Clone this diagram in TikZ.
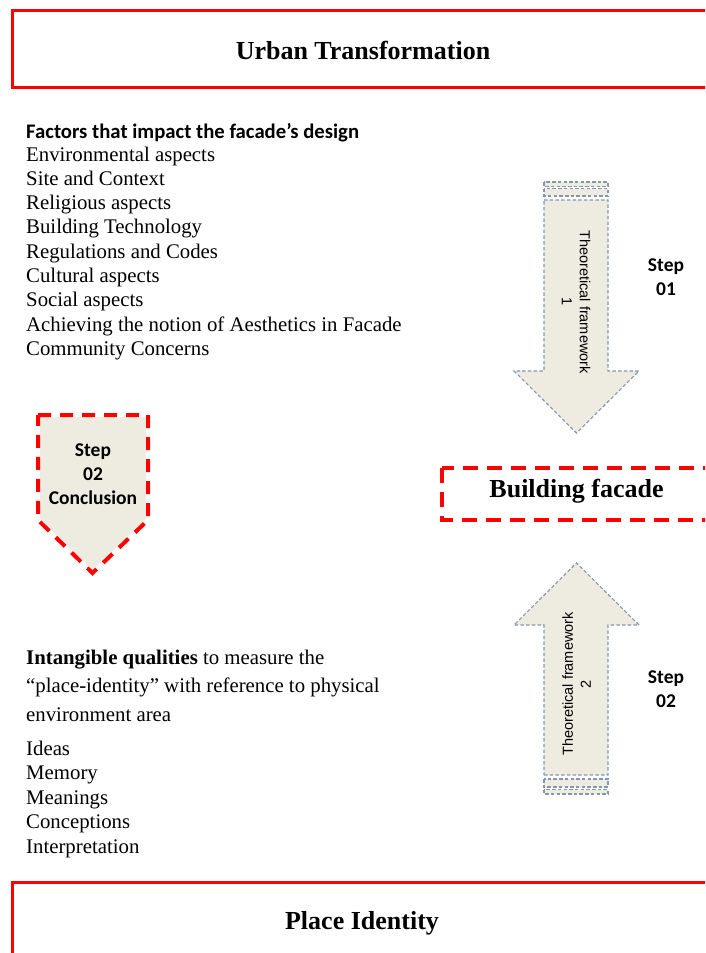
\documentclass[tikz,border=0pt]{standalone}
\usepackage{fontspec}
\setmainfont{Liberation Serif}
\newfontfamily\calibf{Carlito}
\newfontfamily\arialf{Liberation Sans}
\definecolor{beige}{HTML}{EEECE1}
\definecolor{dashblue}{HTML}{8496B0}
\definecolor{redline}{HTML}{FF0000}
\tikzset{
  titlebox/.style={draw=redline, line width=3pt},
  titletext/.style={anchor=base, inner sep=0pt, font=\fontsize{26}{30}\selectfont\bfseries},
  reddash/.style={draw=redline, line width=4pt, dash pattern=on 13pt off 9pt},
  arrowshape/.style={fill=beige, draw=dashblue, line width=1.1pt, dash pattern=on 3.5pt off 2.2pt, line join=miter},
  stripe/.style={fill=beige, draw=dashblue, line width=1.1pt, dash pattern=on 3.5pt off 2.2pt},
  listitem/.style={anchor=base west, inner sep=0pt, font=\fontsize{20.8}{24}\selectfont},
  headitem/.style={anchor=base west, inner sep=0pt, font=\calibf\bfseries\fontsize{20.7}{24}\selectfont},
  steptext/.style={anchor=base, inner sep=0pt, font=\calibf\bfseries\fontsize{19.5}{24}\selectfont},
  frametext/.style={align=center, inner sep=0pt, font=\arialf\fontsize{14.5}{18}\selectfont}
}
\begin{document}
\begin{tikzpicture}[x=1pt,y=-1pt]
\useasboundingbox (0,0) rectangle (705,953);
\clip (0,0) rectangle (705,953);

% top title box
\draw[titlebox] (12,10) rectangle (720,87);
\node[titletext] (urban) at (363,59.5) {Urban Transformation};

% factors list
\node[headitem] (factors) at (26,138.5) {Factors that impact the facade’s design};
\node[listitem] (f1) at (26,161) {Environmental aspects};
\node[listitem] (f2) at (26,185.3) {Site and Context};
\node[listitem] (f3) at (26,209.6) {Religious aspects};
\node[listitem] (f4) at (26,233.9) {Building Technology};
\node[listitem] (f5) at (26,258.2) {Regulations and Codes};
\node[listitem] (f6) at (26,282.5) {Cultural aspects};
\node[listitem] (f7) at (26,306.8) {Social aspects};
\node[listitem] (f8) at (26,331.1) {Achieving the notion of Aesthetics in Facade};
\node[listitem] (f9) at (26,355.4) {Community Concerns};

% arrow 1 (down)
\draw[stripe] (544,182) rectangle (608,186.5);
\draw[stripe] (544,188.5) rectangle (608,196);
\draw[arrowshape] (544,200) -- (608,200) -- (608,371) -- (639,371) -- (576.5,433) -- (514,371) -- (544,371) -- cycle;
\node[frametext, rotate=-90] (tf1) at (576,302) {Theoretical framework\\1};
\node[steptext] (s1a) at (666,271) {Step};
\node[steptext] (s1b) at (666,295) {01};

% conclusion pentagon
\fill[beige] (40,417) -- (146,417) -- (146,519) -- (92.5,570) -- (40,519) -- cycle;
\draw[reddash] (38,415) -- (148,415) -- (148,520) -- (92.5,573) -- (38,520) -- cycle;
\node[steptext] (c1) at (93,456) {Step};
\node[steptext] (c2) at (93,480) {02};
\node[steptext] (c3) at (93,504) {Conclusion};

% building facade box
\draw[reddash, dash pattern=on 15pt off 9pt] (442,468) rectangle (720,520);
\node[titletext] (facade) at (576.5,497) {Building facade};

% arrow 2 (up)
\draw[arrowshape] (544,775) -- (608,775) -- (608,625) -- (639,625) -- (576.5,563) -- (514,625) -- (544,625) -- cycle;
\draw[stripe] (544,779) rectangle (608,787);
\draw[stripe] (544,789.5) rectangle (608,794);
\node[frametext, rotate=90] (tf2) at (576.5,684) {Theoretical framework\\2};
\node[steptext] (s2a) at (666,683.5) {Step};
\node[steptext] (s2b) at (666,707.5) {02};

% intangible qualities
\node[listitem] (i0) at (26,664) {\textbf{Intangible qualities} to measure the};
\node[listitem] (i1) at (26,692) {“place-identity” with reference to physical};
\node[listitem] (i2) at (26,721) {environment area};
\node[listitem] (q1) at (26,755) {Ideas};
\node[listitem] (q2) at (26,779.5) {Memory};
\node[listitem] (q3) at (26,804) {Meanings};
\node[listitem] (q4) at (26,828.5) {Conceptions};
\node[listitem] (q5) at (26,853) {Interpretation};

% bottom title box
\draw[titlebox] (12,882) rectangle (720,975);
\node[titletext] (place) at (362,929) {Place Identity};
\end{tikzpicture}
\end{document}
